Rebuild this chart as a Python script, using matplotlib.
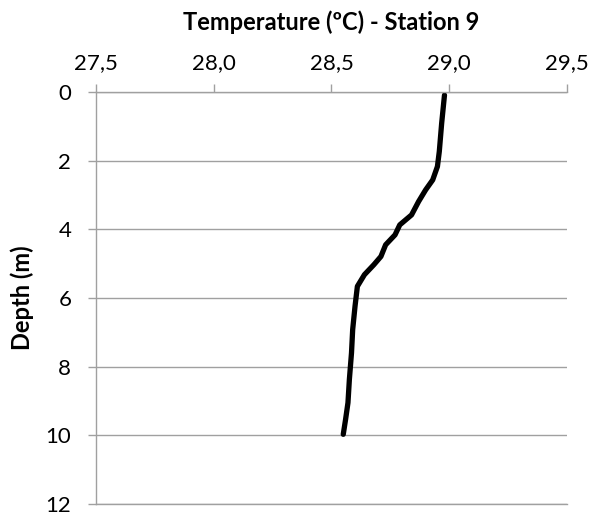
import matplotlib.pyplot as plt
from matplotlib.ticker import FuncFormatter

# Temperature profile (Station 9)
depth = [0.09, 0.91, 1.73, 2.17, 2.56, 2.85, 3.19, 3.58, 3.87, 4.16, 4.45,
         4.79, 5.03, 5.32, 5.66, 6.24, 6.92, 7.60, 8.37, 9.05, 9.53, 9.97]
temperature = [28.98, 28.968, 28.958, 28.95, 28.93, 28.90, 28.87, 28.84, 28.79,
               28.77, 28.73, 28.71, 28.68, 28.64, 28.61, 28.60, 28.59, 28.585,
               28.576, 28.57, 28.56, 28.55]

x_ticks = [27.5, 28.0, 28.5, 29.0, 29.5]
y_ticks = [0, 2, 4, 6, 8, 10, 12]

plt.rcParams['font.family'] = ['Lato', 'DejaVu Sans']
grey = '#a0a0a0'

fig = plt.figure(figsize=(5.93, 5.21), dpi=100)
ax = fig.add_axes([0.162, 0.0326, 0.794, 0.7908])

ax.plot(temperature, depth, color='black', linewidth=3.8, solid_capstyle='round')

ax.set_xlim(27.5, 29.5)
ax.set_ylim(12, 0)
ax.set_xticks(x_ticks)
ax.set_yticks(y_ticks)
ax.xaxis.set_major_formatter(FuncFormatter(lambda v, p: f'{v:.1f}'.replace('.', ',')))
ax.xaxis.tick_top()

# titles placed like the Excel chart
fig.text(0.558, 0.958, 'Temperature (ºC) - Station 9', fontsize=17,
         fontweight='bold', ha='center', va='center')
fig.text(0.038, 0.428, 'Depth (m)', fontsize=17, fontweight='bold',
         rotation=90, ha='center', va='center')

ax.tick_params(axis='both', colors=grey, labelcolor='black', labelsize=16,
               length=5.8, width=1, direction='out')
ax.tick_params(axis='x', pad=8)
ax.tick_params(axis='y', pad=12)

for side in ['right', 'bottom']:
    ax.spines[side].set_visible(False)
for side in ['left', 'top']:
    ax.spines[side].set_color(grey)
    ax.spines[side].set_linewidth(1)

ax.yaxis.grid(True, color=grey, linewidth=1)
ax.set_axisbelow(True)
ax.axhline(12, color=grey, linewidth=1, clip_on=False, zorder=0)

fig.savefig('out.png', dpi=100)
